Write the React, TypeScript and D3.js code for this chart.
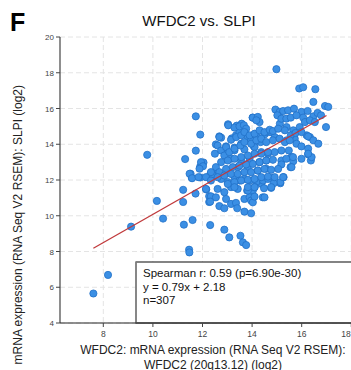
import React from "react";
import * as d3 from "d3";

const TITLE = "WFDC2 vs. SLPI";
const PANEL = "F";
const X_LABEL_1 = "WFDC2: mRNA expression (RNA Seq V2 RSEM):";
const X_LABEL_2 = "WFDC2 (20q13.12) (log2)";
const Y_LABEL = "mRNA expression (RNA Seq V2 RSEM): SLPI (log2)";
const STATS = ["Spearman r: 0.59 (p=6.90e-30)", "y = 0.79x + 2.18", "n=307"];
const SLOPE = 0.79;
const INTERCEPT = 2.18;
const LINE_X = [7.6, 17.0];
const X_TICKS = [8, 10, 12, 14, 16, 18];
const Y_TICKS = [4, 6, 8, 10, 12, 14, 16, 18, 20];

const WFDC2 = [
  7.60, 8.19, 9.12, 9.77, 10.16, 10.41, 11.22, 11.22, 11.25, 11.60, 11.46, 11.47, 11.72, 12.15, 12.27, 12.27, 12.31,
  11.73, 11.91, 11.73, 11.30, 12.04, 11.91, 11.52, 11.57, 11.91, 12.31,
  13.03, 13.38, 13.58, 14.02, 12.68, 12.75, 12.54, 13.18, 13.35, 13.49, 13.69, 13.83, 13.96, 14.21, 14.34, 14.50, 14.67, 12.95, 13.29, 13.56, 14.07,
  14.98, 15.90, 16.06, 16.55, 16.47, 16.94, 17.07, 16.98, 16.20, 16.33, 15.66, 15.92, 15.39, 15.12, 14.77, 14.91, 15.39, 15.72,
  12.14, 12.34, 12.54, 12.31, 12.68, 12.88, 12.95, 13.15, 13.35, 13.40, 13.69, 13.96, 13.69, 13.90, 13.96, 14.43, 12.88, 13.08, 13.53, 13.63, 13.76, 14.03, 13.80, 14.03, 14.10, 14.50, 14.77, 15.14, 14.37,
  16.26, 16.37, 15.59, 15.66, 15.55, 15.27, 15.14, 14.84, 14.87,
  11.94, 12.02, 11.88, 11.48, 11.58, 11.84,
  12.54, 12.41, 12.75, 13.02, 13.29, 13.49, 13.69, 13.90, 14.17, 14.44, 14.64, 13.15, 13.42, 13.83, 14.10, 14.48, 12.61, 12.88,
  12.88, 13.29, 13.69, 14.10, 14.37, 14.64, 13.15, 13.56, 13.90, 14.30, 14.57, 13.42, 13.83, 14.23, 14.57,
  14.94, 15.11, 15.25, 15.45, 15.69, 15.99, 16.24, 16.47, 16.64, 16.78, 15.02, 15.18, 15.38, 15.56, 15.79, 16.06, 16.13, 16.33, 16.53,
  14.03, 14.23, 14.30, 14.17, 13.04, 13.29, 13.49, 13.67, 13.76,
  12.68, 12.61, 12.50, 12.75, 12.95, 13.15, 13.36, 13.56, 13.69, 13.90, 14.10, 14.30, 14.50, 14.71, 14.84, 15.05, 15.32, 15.56, 15.75, 15.99, 16.26, 16.47, 16.67,
  12.88, 13.08, 13.29, 13.53, 13.69, 13.96, 14.17, 14.37, 14.57, 14.84, 15.11, 15.32, 15.52, 15.79, 15.99, 16.26, 15.48, 15.18, 14.91, 14.64, 14.37, 14.10, 13.83, 13.56, 13.29, 13.02, 12.75,
  12.54, 12.34, 12.68, 12.95, 13.22, 13.49, 13.76, 14.03, 14.30, 14.57, 14.84, 15.18, 15.38, 15.65, 15.59, 15.18, 15.99, 16.40, 16.26,
  12.14, 12.34, 12.61, 12.88, 13.15, 13.42, 13.69, 13.96, 14.23, 14.50, 14.77, 15.05,
  13.02, 13.29, 13.56, 13.83, 14.10, 14.37, 14.64, 14.91, 15.25, 13.29, 13.83, 14.10, 14.77,
];

const SLPI = [
  5.65, 6.69, 9.39, 13.41, 10.83, 9.84, 11.45, 10.77, 9.50, 9.76, 8.10, 7.95, 11.24, 11.47, 11.09, 10.77, 9.48,
  15.56, 14.54, 13.64, 13.17, 12.98, 12.76, 12.35, 12.12, 12.14, 12.29,
  15.12, 15.04, 15.15, 15.49, 14.44, 14.37, 13.99, 14.33, 14.50, 14.68, 14.63, 14.40, 14.22, 14.40, 14.12, 14.55, 14.68, 13.88, 13.81, 14.03, 13.88,
  18.20, 17.12, 17.19, 17.08, 16.37, 16.14, 16.09, 14.96, 14.50, 14.40, 14.78, 14.96, 14.96, 15.15, 14.68, 14.40, 14.22, 14.31,
  11.50, 11.09, 11.03, 10.79, 10.54, 10.42, 10.94, 10.66, 10.72, 10.42, 10.23, 10.14, 10.94, 11.03, 10.85, 11.03, 9.22, 8.79, 8.88, 8.51, 8.36, 10.75, 11.41, 11.41, 11.07, 11.03, 11.56, 11.82, 11.79,
  13.43, 13.09, 13.28, 13.05, 12.72, 12.16, 11.88, 12.12, 11.82,
  13.00, 12.77, 12.63, 12.35, 12.10, 12.16,
  12.44, 12.29, 12.06, 11.88, 12.16, 11.97, 12.06, 11.97, 11.88, 11.97, 12.06, 11.60, 11.50, 11.41, 11.60, 11.54, 11.50, 11.32,
  13.56, 13.66, 13.71, 13.84, 13.56, 13.47, 13.19, 13.09, 13.19, 13.00, 13.09, 12.72, 12.63, 12.53, 12.63,
  15.94, 15.81, 15.86, 15.90, 15.99, 15.81, 15.86, 15.56, 15.75, 15.62, 15.62, 15.43, 15.43, 15.49, 15.62, 15.49, 15.24, 15.34, 15.24,
  15.49, 15.53, 15.24, 15.34, 15.06, 14.93, 15.00, 15.06, 14.87,
  14.40, 13.93, 13.47, 13.65, 13.84, 14.25, 14.40, 14.50, 14.68, 14.50, 14.59, 14.78, 14.68, 14.81, 14.74, 14.87, 14.78, 14.50, 14.63, 14.68, 14.44, 14.22, 14.03,
  13.37, 13.56, 13.75, 13.93, 14.12, 14.03, 14.22, 14.31, 14.12, 14.22, 14.31, 14.12, 14.22, 14.03, 13.88, 13.75, 13.65, 13.65, 13.56, 13.56, 13.47, 13.47, 13.37, 13.28, 13.19, 13.09, 13.00,
  12.72, 12.44, 12.44, 12.62, 12.72, 12.81, 12.87, 12.90, 13.00, 13.09, 13.13, 13.09, 13.19, 13.28, 12.72, 12.87, 13.19, 13.28, 13.47,
  12.16, 11.97, 12.16, 12.25, 12.34, 12.34, 12.44, 12.44, 12.53, 12.62, 12.57, 12.62,
  11.78, 11.88, 11.97, 12.01, 12.06, 12.16, 12.19, 12.16, 12.16, 11.60, 11.60, 11.60, 11.60,
];

export default function App() {
  const W = 351;
  const H = 370;
  const left = 60;
  const top = 37;
  const bottom = 323;
  const x = d3.scaleLinear().domain([8, 18]).range([103.3, 351.3]);
  const y = d3.scaleLinear().domain([4, 20]).range([bottom, top]);
  const font = "'Liberation Sans', Arial, Helvetica, sans-serif";
  const pts = WFDC2.map((v, i) => [v, SLPI[i]]);
  const line = d3.line<number>().x((d) => x(d)).y((d) => y(SLOPE * d + INTERCEPT));

  return (
    <svg
      width={W}
      height={H}
      style={{ position: "absolute", left: 0, top: 0, background: "#fff" }}
      fontFamily={font}
    >
      <text x={10} y={31} fontSize={25} fontWeight="bold" fill="#000">{PANEL}</text>
      <text x={199} y={26} fontSize={15} textAnchor="middle" fill="#111">{TITLE}</text>

      {/* grid */}
      {Y_TICKS.map((t) => (
        <line key={"gy" + t} x1={left} x2={W} y1={y(t)} y2={y(t)} stroke="#e4e4e4" strokeWidth={1} strokeDasharray="5,3" />
      ))}
      {X_TICKS.map((t) => (
        <line key={"gx" + t} x1={x(t)} x2={x(t)} y1={top} y2={bottom} stroke="#e4e4e4" strokeWidth={1} strokeDasharray="5,3" />
      ))}

      {/* points */}
      {pts.map((p, i) => (
        <circle key={i} cx={x(p[0])} cy={y(p[1])} r={3.6} fill="#3b8fe4" stroke="#2271c8" strokeWidth={0.8} />
      ))}

      {/* regression line */}
      <path d={line(LINE_X) || ""} fill="none" stroke="#c0393b" strokeWidth={1.3} />

      {/* stats box */}
      <rect x={136} y={262} width={220} height={bottom - 262} fill="#fff" stroke="#333" strokeWidth={1.2} />
      <line x1={136} x2={136} y1={262} y2={bottom} stroke="#888" strokeWidth={1.5} />
      {STATS.map((s, i) => (
        <text key={s} x={143} y={277 + i * 13.5} fontSize={11.5} fill="#111">{s}</text>
      ))}

      {/* axes */}
      <line x1={left} x2={left} y1={top} y2={bottom} stroke="#444" strokeWidth={1.2} />
      <line x1={left} x2={W} y1={bottom} y2={bottom} stroke="#222" strokeWidth={1.2} />
      {Y_TICKS.map((t) => (
        <g key={"ty" + t}>
          <line x1={left - 4} x2={left} y1={y(t)} y2={y(t)} stroke="#444" />
          <text x={left - 6} y={y(t) + 3} fontSize={8} textAnchor="end" fill="#444">{t}</text>
        </g>
      ))}
      {X_TICKS.map((t) => (
        <g key={"tx" + t}>
          <line x1={x(t)} x2={x(t)} y1={bottom} y2={bottom + 4} stroke="#444" />
          <text x={Math.min(x(t), 346)} y={bottom + 14} fontSize={8.5} textAnchor="middle" fill="#444">{t}</text>
        </g>
      ))}

      <text x={213} y={354} fontSize={12} textAnchor="middle" fill="#222">{X_LABEL_1}</text>
      <text x={213} y={369} fontSize={12} textAnchor="middle" fill="#222">{X_LABEL_2}</text>
      <text transform="translate(22,85) rotate(-90)" fontSize={12} textAnchor="end" fill="#222">{Y_LABEL}</text>
    </svg>
  );
}
